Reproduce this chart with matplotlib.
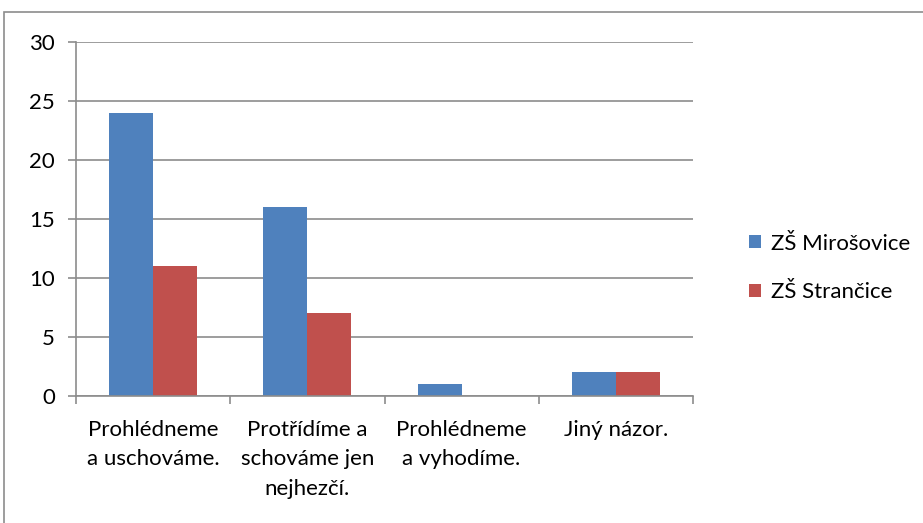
import matplotlib.pyplot as plt
import numpy as np
from matplotlib.patches import Rectangle

categories = ["Prohlédneme\na uschováme.", "Protřídíme a\nschováme jen\nnejhezčí.",
              "Prohlédneme\na vyhodíme.", "Jiný názor."]
mirosovice = [24, 16, 1, 2]
strancice = [11, 7, 0, 2]
series_names = ["ZŠ Mirošovice", "ZŠ Strančice"]

plt.rcParams['font.family'] = ['Lato', 'DejaVu Sans']

fig = plt.figure(figsize=(9.23, 5.23), dpi=100)
W, H = 923, 523
ax = fig.add_axes([76 / W, 1 - 396 / H, (693 - 76) / W, (396 - 42) / H])

# chart border (cropped on the right and bottom)
fig.patches.append(Rectangle((4 / W, -0.1), 1.2, 1 - 12 / H + 0.1, transform=fig.transFigure,
                             fill=False, edgecolor='#8c8c8c', linewidth=1.2))

x = np.arange(len(categories))
w = 44 / 154.25
ax.bar(x - w / 2, mirosovice, w, color='#4F81BD', label=series_names[0])
ax.bar(x + w / 2, strancice, w, color='#C0504D', label=series_names[1])

ax.set_xlim(-0.5, len(categories) - 0.5)
ax.set_ylim(0, 30)
ax.set_yticks(range(0, 31, 5))
ax.yaxis.grid(True, color='#8c8c8c', linewidth=1.2)
ax.set_axisbelow(True)

for s in ['top', 'right']:
    ax.spines[s].set_visible(False)
for s in ['left', 'bottom']:
    ax.spines[s].set_color('#8c8c8c')
    ax.spines[s].set_linewidth(1.2)

ax.set_xticks(np.arange(-0.5, len(categories), 1.0))
ax.set_xticklabels([])
ax.set_xticks(x, minor=True)
ax.set_xticklabels(categories, minor=True, fontsize=16, linespacing=1.6, va='top')
ax.tick_params(axis='x', which='minor', length=0, pad=17)
ax.tick_params(axis='x', which='major', length=6, color='#8c8c8c', width=1.2)
ax.tick_params(axis='y', length=6, color='#8c8c8c', width=1.2, labelsize=16, pad=9)

fig.legend(loc='center left', bbox_to_anchor=(729 / W, 1 - 268 / H), frameon=False,
           fontsize=16, handlelength=0.55, handleheight=0.55, handletextpad=0.45,
           labelspacing=1.3)

fig.savefig("out.png", dpi=100)
